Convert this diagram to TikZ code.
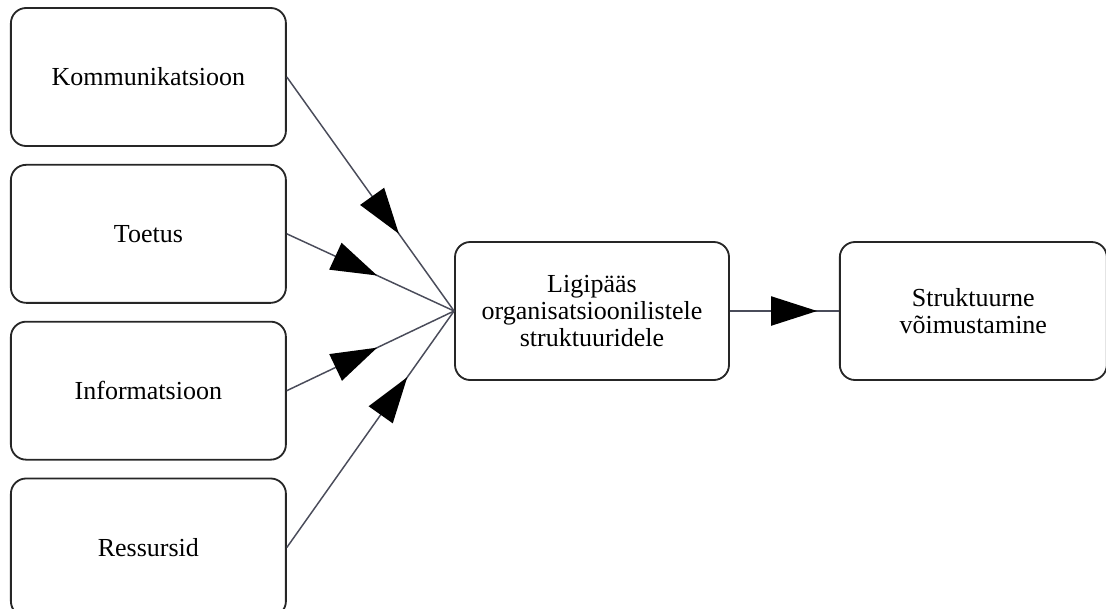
\documentclass[tikz,border=0pt]{standalone}
\usepackage{fontspec}
\setmainfont{Liberation Serif}
\usetikzlibrary{arrows.meta, positioning, decorations.markings}
\definecolor{linkgray}{HTML}{4A4C5A}

\tikzset{
  factor/.style={draw=black!85, line width=1.3pt, rounded corners=0.38cm,
    minimum width=6.875cm, minimum height=3.45cm, align=center, inner sep=2pt,
    font=\fontsize{18.5}{19.5}\selectfont},
  link/.style={draw=linkgray, line width=1.05pt, postaction={decorate},
    decoration={markings, mark=at position #1 with
      {\arrow{Triangle[length=1.15cm, width=0.73cm, black]}}}},
}

\begin{document}
\begin{tikzpicture}
  \useasboundingbox (0,0) rectangle (27.65,-15.2);
  % left column
  \node[factor] (komm) at (3.71,-1.925) {Kommunikatsioon};
  \node[factor, below=0.425cm of komm] (toetus) {Toetus};
  \node[factor, below=0.425cm of toetus] (info) {Informatsioon};
  \node[factor, below=0.425cm of info] (ress) {Ressursid};
  % middle and right
  \node[factor, minimum width=6.85cm] (ligi) at (14.8,-7.775) {Ligipääs\\organisatsioonilistele\\struktuuridele};
  \node[factor, minimum width=6.675cm, right=2.725cm of ligi] (voim) {Struktuurne\\võimustamine};
  % connectors
  \draw[link=0.67] (komm.east) -- (ligi.west);
  \draw[link=0.54] (toetus.east) -- (ligi.west);
  \draw[link=0.54] (info.east) -- (ligi.west);
  \draw[link=0.72] (ress.east) -- (ligi.west);
  \draw[link=0.8] (ligi.east) -- (voim.west);
\end{tikzpicture}
\end{document}
